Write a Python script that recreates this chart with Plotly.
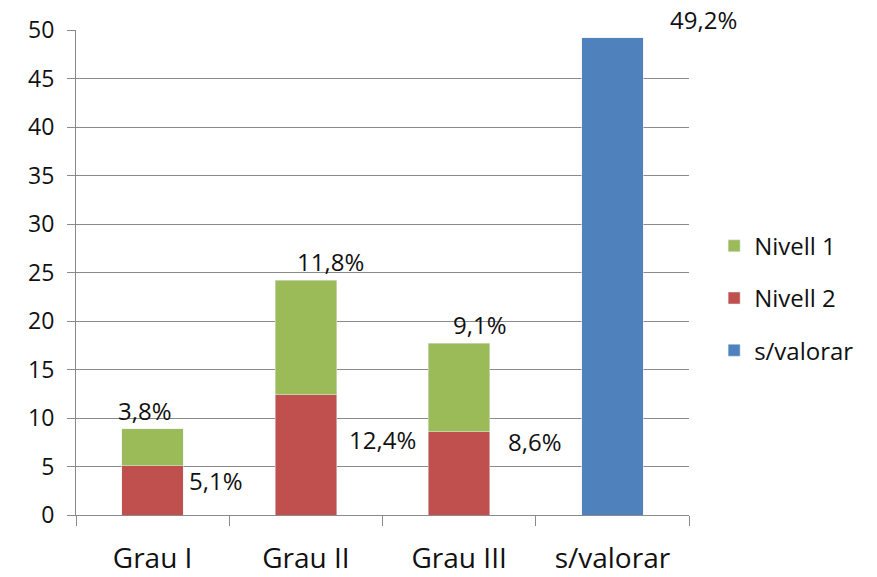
import plotly.graph_objects as go

###### DATA ######
categories = ['Grau I', 'Grau II', 'Grau III', 's/valorar']
graus = ['Grau I', 'Grau II', 'Grau III']
nivell_2 = [5.1, 12.4, 8.6]
nivell_1 = [3.8, 11.8, 9.1]
sense_valorar = [49.2]

# hand-placed label offsets (pixels), as in the original sheet
n1_xshift = [-8, 25, 21]
n2_xshift = [63, 77, 76]
n2_yshift = [-15, -45, -10]

FONT = 'Open Sans'
TXT = '#111111'
GRID = '#8a8a8a'

fig = go.Figure()
fig.add_trace(go.Bar(x=graus, y=nivell_2, name='Nivell 2', marker_color='#C0504D',
                     legendrank=2, legendgroup='n2'))
fig.add_trace(go.Bar(x=graus, y=nivell_1, name='Nivell 1', marker_color='#9BBB59',
                     legendrank=1, legendgroup='n1'))
fig.add_trace(go.Bar(x=['s/valorar'], y=sense_valorar, name='s/valorar', marker_color='#4F81BD',
                     legendrank=3, legendgroup='sv'))
# empty helper trace so the boundary-tick axis gets drawn
fig.add_trace(go.Scatter(x=[], y=[], xaxis='x2', showlegend=False, hoverinfo='skip'))

def pct(v):
    return f'{v:.1f}%'.replace('.', ',')

# Nivell 1 labels above the stack
for i, g in enumerate(graus):
    fig.add_annotation(x=g, y=nivell_1[i] + nivell_2[i], text=pct(nivell_1[i]),
                       showarrow=False, yanchor='bottom', xshift=n1_xshift[i])
# Nivell 2 labels beside the red part
for i, g in enumerate(graus):
    fig.add_annotation(x=g, y=nivell_2[i], text=pct(nivell_2[i]),
                       showarrow=False, yanchor='middle', xshift=n2_xshift[i], yshift=n2_yshift[i])
fig.add_annotation(x='s/valorar', y=sense_valorar[0], text=pct(sense_valorar[0]),
                   showarrow=False, yanchor='bottom', xshift=91)
fig.update_annotations(font=dict(family=FONT, size=24, color=TXT))

n = len(categories)
fig.update_layout(
    barmode='stack',
    bargap=0.6,
    width=877, height=577,
    margin=dict(l=68, r=196, t=22, b=70, autoexpand=False),
    plot_bgcolor='white', paper_bgcolor='white',
    font=dict(family=FONT, color=TXT),
    legend=dict(x=1.041, y=0.447, xanchor='left', yanchor='middle',
                font=dict(size=24), traceorder='grouped', tracegroupgap=18,
                itemwidth=30),
    showlegend=True,
    # tick marks between the categories
    xaxis2=dict(overlaying='x', anchor='y', side='bottom', range=[-0.5, n - 0.5],
                tickmode='array', tickvals=[i - 0.5 for i in range(n + 1)],
                showticklabels=False, ticks='outside', ticklen=10, tickcolor=GRID,
                showgrid=False, zeroline=False, showline=False, automargin=False),
)
fig.layout.xaxis.update(categoryorder='array', categoryarray=categories, range=[-0.5, n - 0.5],
                        showline=True, linecolor=GRID, linewidth=1, automargin=False,
                        ticks='', tickfont=dict(size=28), ticklabelstandoff=18, showgrid=False)
fig.update_yaxes(range=[0, 50], dtick=5, showline=True, linecolor=GRID, linewidth=1,
                 ticks='outside', ticklen=8, tickcolor=GRID, gridcolor=GRID, gridwidth=1,
                 tickfont=dict(size=23), ticklabelstandoff=8, zeroline=False, automargin=False)

fig.write_html('out.html')
